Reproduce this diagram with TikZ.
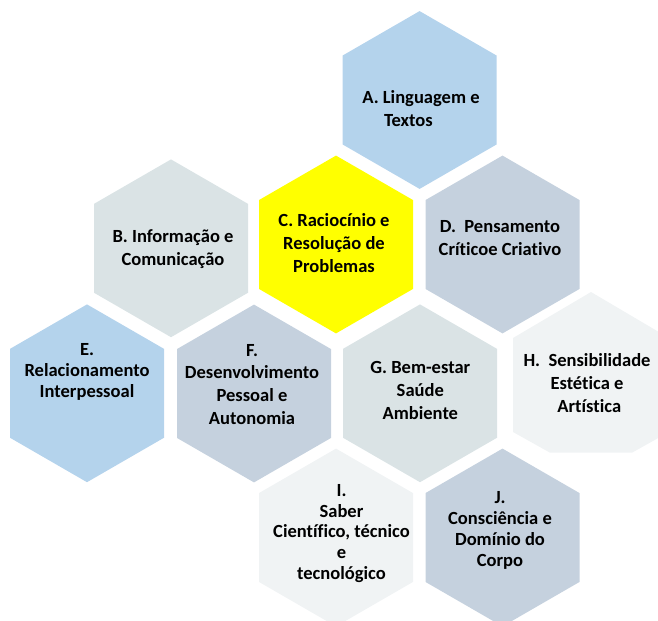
\documentclass[tikz,border=0pt]{standalone}
\usepackage{fontspec}
\setmainfont{Carlito}[Ligatures=NoCommon]
\definecolor{azulclaro}{RGB}{180,211,236}
\definecolor{cinzaazul}{RGB}{218,227,229}
\definecolor{ardosia}{RGB}{197,209,222}
\definecolor{gelo}{RGB}{240,243,244}
\definecolor{amarelo}{RGB}{255,255,0}

\begin{document}
\begin{tikzpicture}[x=1bp, y=-1bp,
    lbl/.style={align=center, inner sep=0pt, font=\bfseries\fontsize{18.6}{23}\selectfont},
    lblaperto/.style={lbl, font=\bfseries\fontsize{18.6}{20.8}\selectfont}]
  \useasboundingbox (0,0) rectangle (658,621);
  \clip (0,0) rectangle (658,621);

  % linha de cima
  \fill[azulclaro] (419.6,11.1)-- ++(-77,44.45)-- ++(0,88.9)-- ++(77,44.45)-- ++(77,-44.45)-- ++(0,-88.9)--cycle;
  \node[lbl] (lingua) at (421,108.4) {A. Linguagem e\\Textos\hphantom{Tex}};

  % segunda linha
  \fill[cinzaazul] (171,159.4)-- ++(-77,44.45)-- ++(0,88.9)-- ++(77,44.45)-- ++(77,-44.45)-- ++(0,-88.9)--cycle;
  \node[lbl] (info) at (173,249) {B. Informação e\\Comunicação};

  \fill[amarelo] (336,155.6)-- ++(-77,44.45)-- ++(0,88.9)-- ++(77,44.45)-- ++(77,-44.45)-- ++(0,-88.9)--cycle;
  \node[lbl] (racio) at (334,243) {C. Raciocínio e\\Resolução de\\Problemas};

  \fill[ardosia] (502.5,155.6)-- ++(-77,44.45)-- ++(0,88.9)-- ++(77,44.45)-- ++(77,-44.45)-- ++(0,-88.9)--cycle;
  \node[lbl] (pensa) at (500,238.5) {D.~~Pensamento\\Críticoe Criativo};

  % terceira linha
  \fill[azulclaro] (87,304.4)-- ++(-77,44.45)-- ++(0,88.9)-- ++(77,44.45)-- ++(77,-44.45)-- ++(0,-88.9)--cycle;
  \node[lblaperto] (relac) at (87,372) {E.\\Relacionamento\\Interpessoal};

  \fill[ardosia] (254,304.6)-- ++(-77,44.45)-- ++(0,88.9)-- ++(77,44.45)-- ++(77,-44.45)-- ++(0,-88.9)--cycle;
  \node[lbl] (desenv) at (252,384.5) {F.\\Desenvolvimento\\Pessoal e\\Autonomia};

  \fill[cinzaazul] (420,304.4)-- ++(-77,44.45)-- ++(0,88.9)-- ++(77,44.45)-- ++(77,-44.45)-- ++(0,-88.9)--cycle;
  \node[lbl] (bemestar) at (420.3,390.5) {G. Bem-estar\\Saúde\\Ambiente};

  \fill[gelo] (591,292)-- ++(-78,46)-- ++(0,94)-- ++(37,20.7)-- ++(82,0)-- ++(37,-20.7)-- ++(0,-94)--cycle;
  \node[lbl] (sensib) at (587,383) {H.~~Sensibilidade\\Estética e\\\hphantom{i}Artística};

  % linha de baixo
  \fill[gelo] (336,448.6)-- ++(-77,44.45)-- ++(0,88.9)-- ++(77,44.45)-- ++(77,-44.45)-- ++(0,-88.9)--cycle;
  \node[lblaperto] (saber) at (341.5,533.3) {I.\\Saber\\Científico, técnico\\e\\tecnológico};

  \fill[ardosia] (502.5,448.6)-- ++(-77,44.45)-- ++(0,88.9)-- ++(77,44.45)-- ++(77,-44.45)-- ++(0,-88.9)--cycle;
  \node[lblaperto] (corpo) at (500,530.5) {J.\\Consciência e\\Domínio do\\Corpo};
\end{tikzpicture}
\end{document}
